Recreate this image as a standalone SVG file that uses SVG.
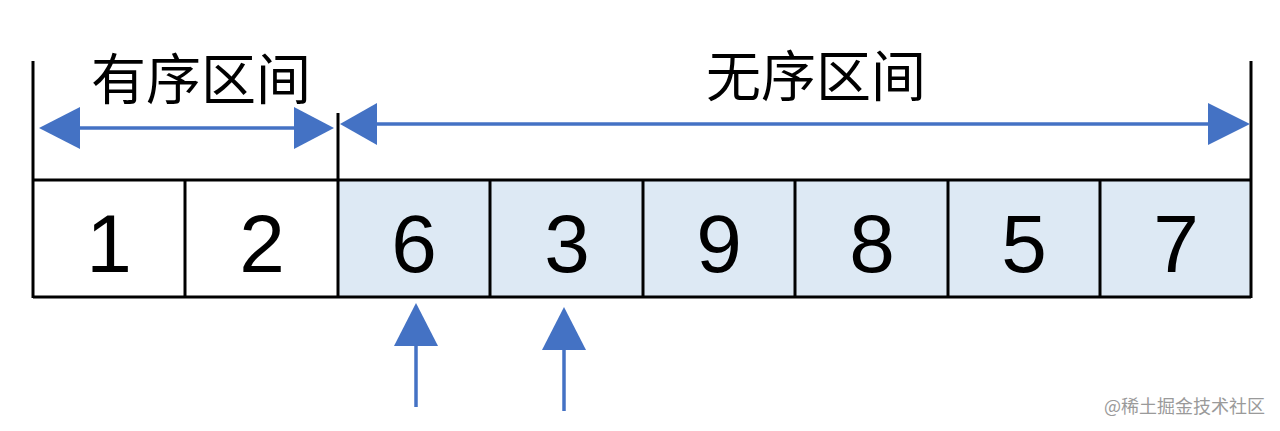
<svg xmlns="http://www.w3.org/2000/svg" width="1280" height="431" viewBox="0 0 1280 431">
<style>
.bk{stroke:#000;stroke-width:3;fill:none}
.bl{stroke:#4472c4;stroke-width:3.5;fill:none}
.ah{fill:#4472c4}
.num{font-family:"Liberation Sans",Arial,sans-serif;font-size:82px;fill:#000;text-anchor:middle}
.lab{font-family:"Noto Sans CJK SC","Liberation Sans",sans-serif;font-size:55px;fill:#000;text-anchor:middle}
.wm{font-family:"Noto Sans CJK SC",sans-serif;font-size:18px;fill:#9a9a9a}
</style>
<rect width="1280" height="431" fill="#fff"/>
<g id="table">
<rect x="338" y="180" width="913" height="117" fill="#dde9f4"/>
<line class="bk" x1="33" y1="180" x2="1251" y2="180"/>
<line class="bk" x1="33" y1="297" x2="1251" y2="297"/>
<line class="bk" x1="33" y1="61" x2="33" y2="298"/>
<line class="bk" x1="185" y1="180" x2="185" y2="297"/>
<line class="bk" x1="338" y1="113" x2="338" y2="298"/>
<line class="bk" x1="490" y1="180" x2="490" y2="297"/>
<line class="bk" x1="643" y1="180" x2="643" y2="297"/>
<line class="bk" x1="795" y1="180" x2="795" y2="297"/>
<line class="bk" x1="948" y1="180" x2="948" y2="297"/>
<line class="bk" x1="1100" y1="180" x2="1100" y2="297"/>
<line class="bk" x1="1251" y1="61" x2="1251" y2="298"/>
</g>
<g id="cells">
<text class="num" x="109" y="272">1</text>
<text class="num" x="262" y="272">2</text>
<text class="num" x="414" y="272">6</text>
<text class="num" x="567" y="272">3</text>
<text class="num" x="719" y="272">9</text>
<text class="num" x="872" y="272">8</text>
<text class="num" x="1024" y="272">5</text>
<text class="num" x="1176" y="272">7</text>
</g>
<g id="labels">
<text class="lab" x="201" y="99">有序区间</text>
<text class="lab" x="816" y="96">无序区间</text>
</g>
<g id="connectors">
<line class="bl" x1="75" y1="128" x2="298" y2="128"/>
<polygon class="ah" points="39,128 80,107 80,149"/>
<polygon class="ah" points="334,128 294,107 294,149"/>
<line class="bl" x1="372" y1="124" x2="1212" y2="124"/>
<polygon class="ah" points="340,124 377,103 377,145"/>
<polygon class="ah" points="1250,124 1208,103 1208,145"/>
<line class="bl" x1="416" y1="340" x2="416" y2="407"/>
<polygon class="ah" points="416,303 394,346 438,346"/>
<line class="bl" x1="564" y1="344" x2="564" y2="411"/>
<polygon class="ah" points="564,307 542,350 586,350"/>
</g>
<text class="wm" x="1104" y="413">@稀土掘金技术社区</text>
</svg>
